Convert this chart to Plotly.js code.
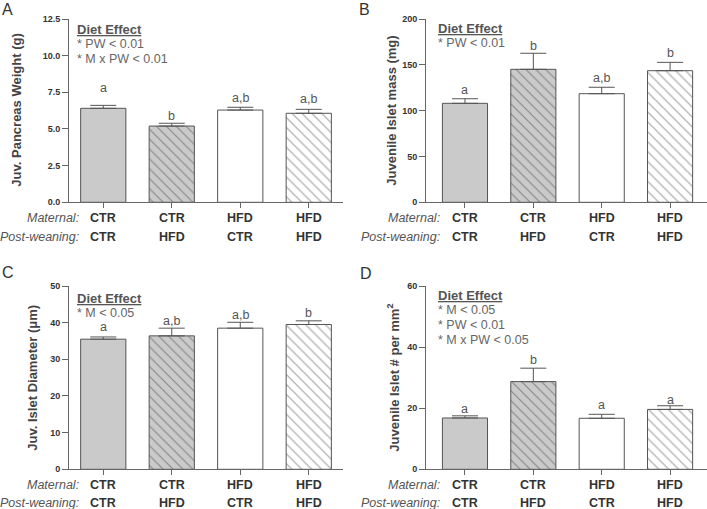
<!DOCTYPE html>
<html>
<head>
<meta charset="utf-8">
<script src="https://cdn.plot.ly/plotly-3.0.1.min.js"></script>
<style>html,body{margin:0;padding:0;background:#fff;}#chart{width:707px;height:509px;}</style>
</head>
<body>
<div id="chart"></div>
<script>
// ---- data ----
const groupIndex = [0, 1, 2, 3];
const maternal = ['CTR', 'CTR', 'HFD', 'HFD'];
const postWeaning = ['CTR', 'HFD', 'CTR', 'HFD'];

const pancreasWeight = [6.41, 5.20, 6.29, 6.07];
const pancreasWeightErr = [0.20, 0.19, 0.19, 0.27];
const pancreasLetters = ['a', 'b', 'a,b', 'a,b'];
const pancreasStats = ['* PW < 0.01', '* M x PW < 0.01'];

const isletMass = [108.0, 145.1, 118.5, 143.6];
const isletMassErr = [5.0, 17.5, 7.0, 9.1];
const isletMassLetters = ['a', 'b', 'a,b', 'b'];
const isletMassStats = ['* PW < 0.01'];

const isletDiameter = [35.5, 36.4, 38.5, 39.5];
const isletDiameterErr = [0.6, 2.1, 1.6, 1.0];
const isletDiameterLetters = ['a', 'a,b', 'a,b', 'b'];
const isletDiameterStats = ['* M < 0.05'];

const isletDensity = [16.8, 28.7, 16.7, 19.6];
const isletDensityErr = [0.7, 4.4, 1.3, 1.2];
const isletDensityLetters = ['a', 'b', 'a', 'a'];
const isletDensityStats = ['* M < 0.05', '* PW < 0.01', '* M x PW < 0.05'];

const pancreasTicks = [0, 2.5, 5, 7.5, 10, 12.5];
const massTicks = [0, 50, 100, 150, 200];
const diameterTicks = [0, 10, 20, 30, 40, 50];
const densityTicks = [0, 20, 40, 60];

// ---- layout helpers ----
const W = 707, H = 509;
const FONT = 'Liberation Sans, Arial, Helvetica, sans-serif';
const DARK = '#555555';
const GRAY_FILL = '#cacaca';
const px = p => p / W;
const py = p => 1 - p / H;

const fills = [GRAY_FILL, GRAY_FILL, '#ffffff', '#ffffff'];
const shapes = ['', '\\', '', '\\'];

const panels = [
  {key: '', letter: 'A', vals: pancreasWeight, errs: pancreasWeightErr, letters: pancreasLetters, stats: pancreasStats,
   title: 'Juv. Pancreas Weight (g)', ticks: pancreasTicks, fmt: '.1f', ymax: 12.5,
   xpx: [69, 343], xr: [-0.5, 3.5], ypx: [19, 202.3], titleX: 17, letterShift: [8, -2, 0, 1],
   statX: 76, statTop: 30.7, labelX: 81, rows: [218.3, 236.7], panelXY: [0, -1]},
  {key: '2', letter: 'B', vals: isletMass, errs: isletMassErr, letters: isletMassLetters, stats: isletMassStats,
   title: 'Juvenile Islet mass (mg)', ticks: massTicks, fmt: '', ymax: 200,
   xpx: [426, 707], xr: [-0.57, 3.54], ypx: [19, 202.3], titleX: 392, letterShift: [0, -2, 0, 0],
   statX: 437, statTop: 30.2, labelX: 442, rows: [218.3, 236.7], panelXY: [357, -1]},
  {key: '3', letter: 'C', vals: isletDiameter, errs: isletDiameterErr, letters: isletDiameterLetters, stats: isletDiameterStats,
   title: 'Juv. Islet Diameter (\u03bcm)', ticks: diameterTicks, fmt: '', ymax: 50,
   xpx: [69, 343], xr: [-0.5, 3.5], ypx: [286, 469.3], titleX: 33, letterShift: [1, -2, -2, -1],
   statX: 76, statTop: 300, labelX: 81, rows: [485, 503.3], panelXY: [0, 262]},
  {key: '4', letter: 'D', vals: isletDensity, errs: isletDensityErr, letters: isletDensityLetters, stats: isletDensityStats,
   title: 'Juvenile Islet # per mm<sup>2</sup>', ticks: densityTicks, fmt: '', ymax: 60,
   xpx: [426, 707], xr: [-0.57, 3.54], ypx: [286, 469.3], titleX: 393, letterShift: [-2, -1, 0, -3],
   statX: 437, statTop: 297.3, labelX: 442, rows: [485, 503.3], panelXY: [358, 263]}
];

const traces = [];
const annotations = [];
const layout = {
  width: W, height: H,
  margin: {l: 0, r: 0, t: 0, b: 0},
  paper_bgcolor: '#ffffff', plot_bgcolor: '#ffffff',
  showlegend: false,
  font: {family: FONT, color: '#333333'}
};

panels.forEach(p => {
  const xa = 'x' + p.key, ya = 'y' + p.key;
  traces.push({
    type: 'bar', x: groupIndex, y: p.vals, xaxis: xa, yaxis: ya,
    width: 0.66,
    marker: {
      color: fills,
      line: {color: DARK, width: 1},
      pattern: {shape: shapes, fgcolor: '#444444', bgcolor: fills, size: 7, solidity: 0.16, fillmode: 'overlay'}
    },
    error_y: {type: 'data', symmetric: false, array: p.errs, arrayminus: p.errs.map(() => 0),
              color: DARK, thickness: 1, width: 13},
    hoverinfo: 'skip'
  });
  layout['xaxis' + p.key] = {
    domain: [px(p.xpx[0]), px(p.xpx[1])], range: p.xr, anchor: ya,
    showgrid: false, zeroline: false, showline: true, linecolor: '#666666', linewidth: 1,
    ticks: 'outside', ticklen: 5, tickcolor: '#666666', tickvals: groupIndex, showticklabels: false,
    fixedrange: true
  };
  layout['yaxis' + p.key] = {
    domain: [py(p.ypx[1]), py(p.ypx[0])], range: [0, p.ymax], anchor: xa,
    showgrid: false, zeroline: false, showline: true, linecolor: '#666666', linewidth: 1,
    ticks: 'outside', ticklen: 6, tickcolor: '#666666', tickvals: p.ticks, tickformat: p.fmt,
    tickfont: {family: FONT, size: 9, color: '#333333', weight: 'bold'},
    fixedrange: true
  };
  // axis title
  annotations.push({
    xref: 'paper', yref: 'paper', x: px(p.titleX), y: py((p.ypx[0] + p.ypx[1]) / 2),
    text: '<b>' + p.title + '</b>', textangle: -90, showarrow: false,
    xanchor: 'center', yanchor: 'middle', font: {family: FONT, size: 13, color: '#444444'}
  });
  // panel letter
  annotations.push({
    xref: 'paper', yref: 'paper', x: px(p.panelXY[0]), y: py(p.panelXY[1]),
    text: p.letter, showarrow: false, xanchor: 'left', yanchor: 'top',
    font: {family: FONT, size: 16, color: '#333333'}
  });
  // significance letters
  p.letters.forEach((t, i) => {
    annotations.push({
      xref: xa, yref: ya, x: groupIndex[i], y: p.vals[i] + p.errs[i],
      text: t, showarrow: false, xanchor: 'center', yanchor: 'bottom', yshift: p.letterShift[i],
      font: {family: FONT, size: 12.5, color: '#555555'}
    });
  });
  // stats box
  annotations.push({
    xref: 'paper', yref: 'paper', x: px(p.statX - 1), y: py(p.statTop - 11),
    text: '<b><u>Diet Effect</u></b>', showarrow: false, xanchor: 'left', yanchor: 'top',
    font: {family: FONT, size: 13, color: '#555555'}
  });
  p.stats.forEach((s, k) => {
    annotations.push({
      xref: 'paper', yref: 'paper', x: px(p.statX - 1), y: py(p.statTop + 15 * (k + 1) - 11),
      text: s, showarrow: false, xanchor: 'left', yanchor: 'top',
      font: {family: FONT, size: 12.5, color: '#666666'}
    });
  });
  // category rows
  [['Maternal:', maternal], ['Post-weaning:', postWeaning]].forEach((row, r) => {
    annotations.push({
      xref: 'paper', yref: 'paper', x: px(p.labelX), y: py(p.rows[r]),
      text: '<i>' + row[0] + '</i>', showarrow: false, xanchor: 'right', yanchor: 'middle',
      font: {family: FONT, size: 12.5, color: '#555555'}
    });
    row[1].forEach((c, i) => {
      annotations.push({
        xref: xa, yref: 'paper', x: groupIndex[i], y: py(p.rows[r]),
        text: '<b>' + c + '</b>', showarrow: false, xanchor: 'center', yanchor: 'middle',
        font: {family: FONT, size: 12.5, color: '#333333'}
      });
    });
  });
});

layout.annotations = annotations;
Plotly.newPlot('chart', traces, layout, {staticPlot: true, displayModeBar: false});
</script>
</body>
</html>
